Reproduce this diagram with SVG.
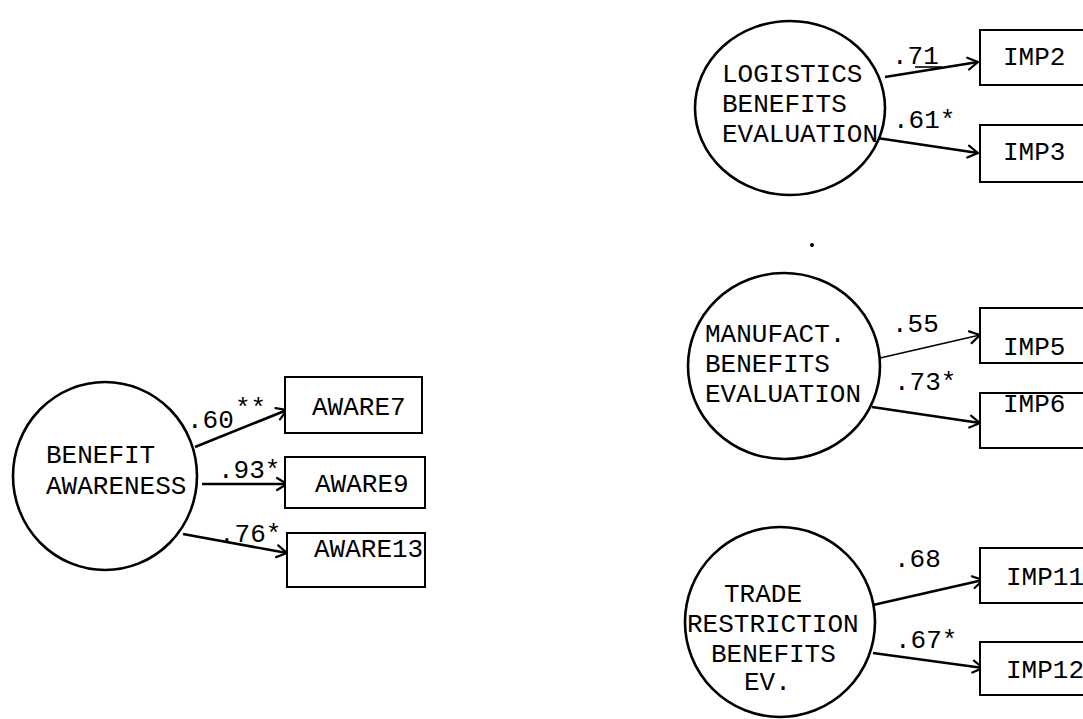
<svg xmlns="http://www.w3.org/2000/svg" width="1083" height="719" viewBox="0 0 1083 719">
<defs>
<marker id="arr" markerUnits="userSpaceOnUse" markerWidth="16" markerHeight="16" refX="13" refY="8" orient="auto">
<path d="M3,2 L13,8 L3,14" fill="none" stroke="#000" stroke-width="2.2" stroke-linejoin="round" stroke-linecap="round"/>
</marker>
<style>
.c{fill:#fff;stroke:#000;stroke-width:2.6}
.b{fill:#fff;stroke:#000;stroke-width:2}
.t{font-family:"Liberation Mono","Courier New",monospace;font-size:26px;fill:#000}
.e{stroke:#000;stroke-width:2.6;fill:none;marker-end:url(#arr)}
.thin{stroke-width:1.6}
</style>
</defs>
<rect width="1083" height="719" fill="#fff"/>

<g id="connectors">
<line class="e" x1="195" y1="447" x2="287" y2="410"/>
<line class="e" x1="202" y1="484" x2="287" y2="484"/>
<line class="e" x1="183" y1="534" x2="287" y2="553"/>
<line class="e" x1="885" y1="77" x2="978" y2="62"/>
<line class="e" x1="877" y1="138" x2="978" y2="153"/>
<line class="e thin" x1="880" y1="358" x2="980" y2="335"/>
<line class="e" x1="872" y1="407" x2="980" y2="423"/>
<line class="e" x1="873" y1="605" x2="983" y2="580"/>
<line class="e" x1="873" y1="653" x2="983" y2="668"/>
<line x1="915" y1="67" x2="942" y2="67" stroke="#000" stroke-width="1.6"/>
<text class="t" x="187" y="428">.60</text>
<text class="t" x="235" y="416">**</text>
<text class="t" x="218" y="478">.93*</text>
<text class="t" x="219" y="542">.76*</text>
<text class="t" x="892" y="64">.71</text>
<text class="t" x="893" y="128">.61*</text>
<text class="t" x="892" y="332">.55</text>
<text class="t" x="894" y="390">.73*</text>
<text class="t" x="894" y="567">.68</text>
<text class="t" x="895" y="648">.67*</text>
</g>

<g id="benefit-awareness">
<ellipse class="c" cx="105" cy="476" rx="92" ry="94"/>
<text class="t" x="46" y="463">BENEFIT</text>
<text class="t" x="46" y="494">AWARENESS</text>
</g>
<g id="aware7">
<rect class="b" x="285" y="377" width="137" height="56"/>
<text class="t" x="312" y="415">AWARE7</text>
</g>
<g id="aware9">
<rect class="b" x="285" y="457" width="140" height="51"/>
<text class="t" x="315" y="492">AWARE9</text>
</g>
<g id="aware13">
<rect class="b" x="287" y="533" width="138" height="54"/>
<text class="t" x="314" y="557">AWARE13</text>
</g>

<g id="logistics">
<ellipse class="c" cx="790" cy="108" rx="95" ry="87"/>
<text class="t" x="722" y="82">LOGISTICS</text>
<text class="t" x="722" y="112">BENEFITS</text>
<text class="t" x="722" y="142">EVALUATION</text>
</g>
<g id="imp2">
<rect class="b" x="980" y="30" width="130" height="55"/>
<text class="t" x="1003" y="65">IMP2</text>
</g>
<g id="imp3">
<rect class="b" x="980" y="125" width="130" height="57"/>
<text class="t" x="1003" y="160">IMP3</text>
</g>

<g id="manufact">
<ellipse class="c" cx="784" cy="366" rx="96" ry="93"/>
<text class="t" x="705" y="342">MANUFACT.</text>
<text class="t" x="705" y="372">BENEFITS</text>
<text class="t" x="705" y="402">EVALUATION</text>
</g>
<g id="imp5">
<rect class="b" x="980" y="308" width="130" height="55"/>
<text class="t" x="1003" y="355">IMP5</text>
</g>
<g id="imp6">
<rect class="b" x="980" y="393" width="130" height="55"/>
<text class="t" x="1003" y="412">IMP6</text>
</g>

<g id="trade">
<ellipse class="c" cx="780" cy="622" rx="95" ry="95"/>
<text class="t" x="724" y="602">TRADE</text>
<text class="t" x="687" y="632">RESTRICTION</text>
<text class="t" x="711" y="662">BENEFITS</text>
<text class="t" x="744" y="690">EV.</text>
</g>
<g id="imp11">
<rect class="b" x="980" y="548" width="130" height="55"/>
<text class="t" x="1006" y="585">IMP11</text>
</g>
<g id="imp12">
<rect class="b" x="980" y="642" width="130" height="53"/>
<text class="t" x="1006" y="678">IMP12</text>
</g>

<circle cx="812" cy="245" r="2" fill="#000"/>
</svg>
